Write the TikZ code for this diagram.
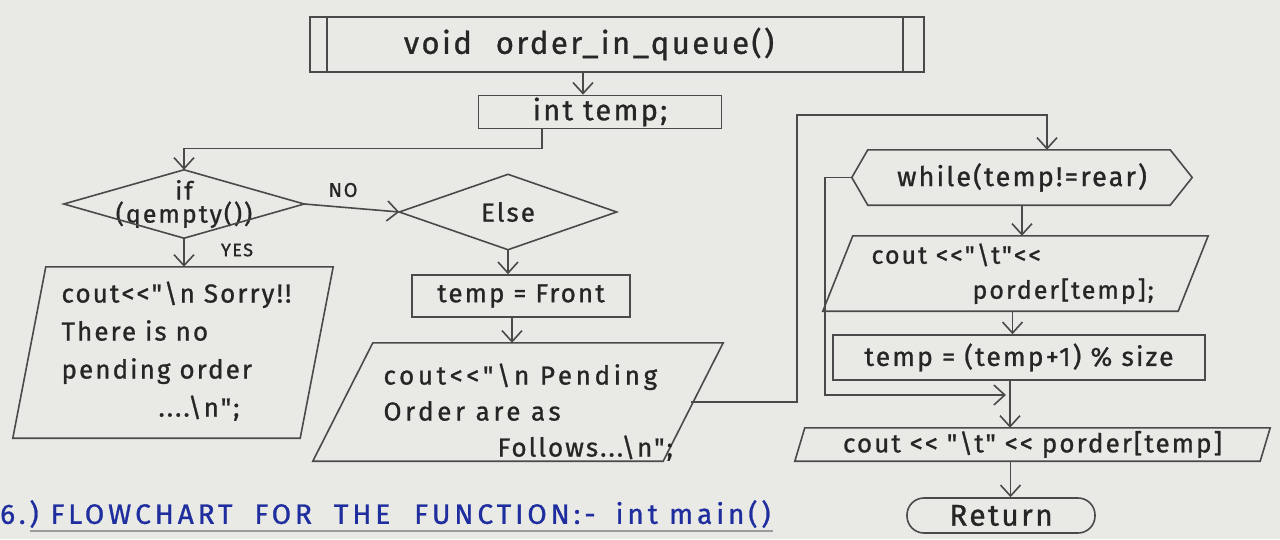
\documentclass[tikz,border=0pt]{standalone}
\usepackage{fontspec}
\setmainfont{Fira Sans}
\newfontfamily\hand[LetterSpace=8,FakeBold=1]{Fira Sans}
\newfontfamily\handwide[LetterSpace=14,FakeBold=1]{Fira Sans}
\usetikzlibrary{arrows.meta,calc}
\definecolor{paper}{HTML}{E9E9E5}
\definecolor{pencil}{HTML}{4A4A4A}
\definecolor{ink}{HTML}{262626}
\definecolor{blueink}{HTML}{1F2E9E}
\begin{document}
\begin{tikzpicture}[x=1pt,y=-1pt,
  line/.style={draw=pencil, line width=1.6pt},
  arr/.style={line, -{Straight Barb[length=11pt,width=20pt]}},
  box/.style={line, rectangle, inner sep=0pt},
  area/.style={rectangle, inner sep=0pt},
  txt/.style={text=ink, font=\hand\fontsize{26}{36}\selectfont},
]
\fill[paper] (0,0) rectangle (1280,539);
\useasboundingbox (0,0) rectangle (1280,539);

% ---- top: predefined process
\node[box, minimum width=614pt, minimum height=55pt] (top) at (617,44.5) {};
\draw[line] ([xshift=18pt]top.north west) -- ([xshift=18pt]top.south west);
\draw[line] ([xshift=-22pt]top.north east) -- ([xshift=-22pt]top.south east);
\node[txt, font=\hand\fontsize{31}{31}\selectfont] (toptxt) at (589,44) {void\hspace{24pt}order\_in\_queue()};

\node[box, txt, font=\hand\fontsize{29}{29}\selectfont, minimum width=243pt, minimum height=33pt] (int) at (600,112) {int temp;};

% ---- if diamond
\node[area, txt, font=\hand\fontsize{25}{23}\selectfont, align=center, minimum width=240pt, minimum height=68pt] (ifd) at (184,204) {if\\(qempty())};
\draw[line] (ifd.west) -- (ifd.north) -- (ifd.east) -- (ifd.south) -- cycle;
\node[txt, font=\hand\fontsize{20}{20}\selectfont] (no) at (343,190) {NO};
\node[txt, font=\hand\fontsize{18}{18}\selectfont] (yes) at (237,250) {YES};

% ---- else diamond
\node[area, txt, minimum width=217pt, minimum height=75pt] (els) at (508,212) {Else};
\draw[line] (els.west) -- (els.north) -- (els.east) -- (els.south) -- cycle;

\node[box, txt, minimum width=218pt, minimum height=42pt] (front) at (521,296) {temp = Front};

% ---- sorry parallelogram
\node[area, minimum width=320pt, minimum height=171pt] (sorry) at (173,352.5) {};
\draw[line] ([xshift=33pt]sorry.north west) -- (sorry.north east) -- ([xshift=-33pt]sorry.south east) -- (sorry.south west) -- cycle;
\node[txt, font=\hand\fontsize{26}{38}\selectfont, align=left, anchor=north west] (sorrytxt) at (58,278)
  {cout<<"\textbackslash n Sorry!!\\There is no\\pending order\\\hspace*{97pt}....\textbackslash n";};

% ---- pending parallelogram
\node[area, minimum width=410pt, minimum height=118pt] (pend) at (518,402) {};
\draw[line] ([xshift=60pt]pend.north west) -- (pend.north east) -- ([xshift=-60pt]pend.south east) -- (pend.south west) -- cycle;
\node[txt, font=\handwide\fontsize{26}{36}\selectfont, align=left, anchor=north west] (pendtxt) at (380,360)
  {cout<<"\textbackslash n Pending\\Order are as\\\hspace*{114pt}{\hand Follows...\textbackslash n";}};

% ---- while hexagon
\node[area, txt, font=\hand\fontsize{27}{27}\selectfont, minimum width=340pt, minimum height=55pt] (whl) at (1022,177.5) {while(temp!=rear)};
\draw[line] (whl.west) -- ([xshift=16pt]whl.north west) -- ([xshift=-22pt]whl.north east) -- (whl.east)
  -- ([xshift=-22pt]whl.south east) -- ([xshift=16pt]whl.south west) -- cycle;

% ---- cout parallelogram
\node[area, minimum width=385pt, minimum height=75pt] (cout1) at (1015.5,273.5) {};
\draw[line] ([xshift=30pt]cout1.north west) -- (cout1.north east) -- ([xshift=-30pt]cout1.south east) -- (cout1.south west) -- cycle;
\node[txt, font=\hand\fontsize{25}{35}\selectfont, align=left, anchor=north west] (cout1txt) at (868,240)
  {cout <<"\textbackslash t"<<\\\hspace*{101pt}porder[temp];};

\node[box, txt, font=\hand\fontsize{26.5}{26}\selectfont, minimum width=372pt, minimum height=45pt] (incr) at (1019,357.5) {temp = (temp+1) \% size};

\node[area, txt, font=\hand\fontsize{26}{24}\selectfont, minimum width=475pt, minimum height=33pt] (cout2) at (1032.5,444.5) {cout << "\textbackslash t" << porder[temp]};
\draw[line] ([xshift=10pt]cout2.north west) -- (cout2.north east) -- ([xshift=-10pt]cout2.south east) -- (cout2.south west) -- cycle;

\node[box, txt, font=\hand\fontsize{30}{30}\selectfont, rounded corners=17pt, minimum width=188pt, minimum height=35pt] (ret) at (1001,515.5) {Return};

% ---- footer
\node[text=blueink, font=\handwide\fontsize{28}{28}\selectfont, anchor=west, inner sep=0pt] (title) at (0,514)
  {6.)\hspace{12pt}FLOWCHART\hspace{22pt}FOR\hspace{22pt}THE\hspace{24pt}FUNCTION:-\hspace{20pt}int main()};
\draw[line, draw=pencil!55] ([xshift=30pt,yshift=-17pt]title.west) -- ([xshift=2pt,yshift=-17pt]title.east);

% ---- connectors
\draw[arr] ([xshift=-34pt]top.south) -- ([xshift=-34pt]top.south |- int.north);
\draw[arr] ([xshift=-58pt]int.south) -- ++(0,19) -| (ifd.north);
\draw[arr] (ifd.east) -- (els.west);
\draw[arr] (ifd.south) -- (ifd.south |- sorry.north);
\draw[arr] (els.south) -- (els.south |- front.north);
\draw[arr] ([xshift=-9pt]front.south) -- ([xshift=-9pt]front.south |- pend.north);
\draw[arr] ([xshift=-32pt]pend.east) -| (797,115) -| ([xshift=25pt]whl.north);
\draw[arr] (whl.south) -- (whl.south |- cout1.north);
\draw[arr] ([xshift=-3pt]cout1.south) -- ([xshift=-3pt]cout1.south |- incr.north);
\coordinate (jn) at (1006,395);
\draw[arr] ([xshift=-9pt]incr.south) -- ([xshift=-9pt]incr.south |- cout2.north);
\draw[arr] (whl.west) -- ++(-27,0) |- (jn);
\draw[arr] ([xshift=-22pt]cout2.south) -- ([xshift=-22pt]cout2.south |- ret.north);
\end{tikzpicture}
\end{document}
